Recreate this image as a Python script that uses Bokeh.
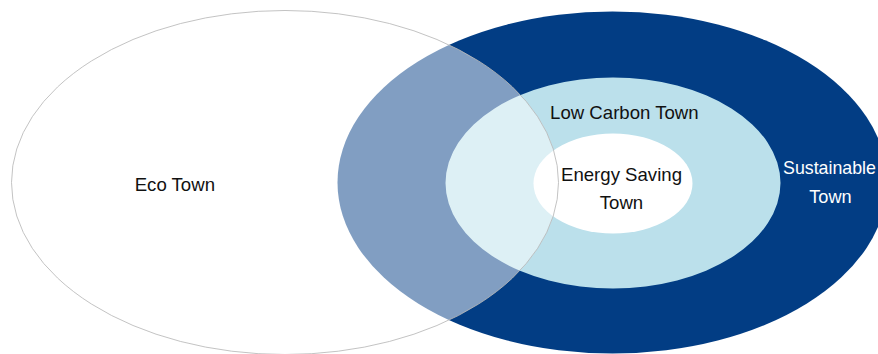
from bokeh.plotting import figure
from bokeh.models import Range1d, ColumnDataSource
from bokeh.core.properties import value
from bokeh.embed import file_html
from bokeh.resources import INLINE

# Nested town concepts, drawn back to front
ring_names = ["Sustainable Town", "Low Carbon Town", "Energy Saving Town"]
ring_cx = [612, 612.5, 612.5]
ring_cy = [182, 182.5, 183]
ring_w = [550, 335, 159]
ring_h = [342, 211, 100]
ring_colors = ["#023d84", "#bbe0eb", "#ffffff"]

# Overlapping translucent ellipse
eco_cx = [284.5]
eco_cy = [182]
eco_w = [547]
eco_h = [344]

# Labels (baseline positions)
label_text = ["Low Carbon Town", "Energy Saving", "Town", "Sustainable", "Town", "Eco Town"]
label_x = [624, 621, 621, 829, 830, 174.5]
label_y = [112, 174, 202, 167, 196, 184]
label_color = ["#111111", "#111111", "#111111", "#ffffff", "#ffffff", "#111111"]
label_size = ["18.6px", "18.6px", "18.6px", "17.8px", "18.2px", "18.6px"]

W, H = 878, 354
p = figure(width=W, height=H, x_range=Range1d(0, W), y_range=Range1d(H, 0),
           output_backend="svg", toolbar_location=None, min_border=0)
p.axis.visible = False
p.grid.visible = False
p.outline_line_color = None
p.background_fill_color = "#ffffff"
p.border_fill_color = "#ffffff"

rings = ColumnDataSource(dict(name=ring_names, x=ring_cx, y=ring_cy, w=ring_w,
                              h=ring_h, c=ring_colors))
p.ellipse(x="x", y="y", width="w", height="h", fill_color="c", line_color=None,
          source=rings)

p.ellipse(x=eco_cx, y=eco_cy, width=eco_w, height=eco_h, fill_color="#ffffff",
          fill_alpha=0.5, line_color="#b8b8b8", line_alpha=0.85, line_width=1)

labels = ColumnDataSource(dict(t=label_text, x=label_x, y=label_y, c=label_color,
                               s=label_size))
p.text(x="x", y="y", text="t", text_color="c", text_font_size="s", source=labels,
       text_font=value("Liberation Sans"),
       text_align="center", text_baseline="alphabetic")

open("out.html", "w").write(file_html(p, INLINE))
